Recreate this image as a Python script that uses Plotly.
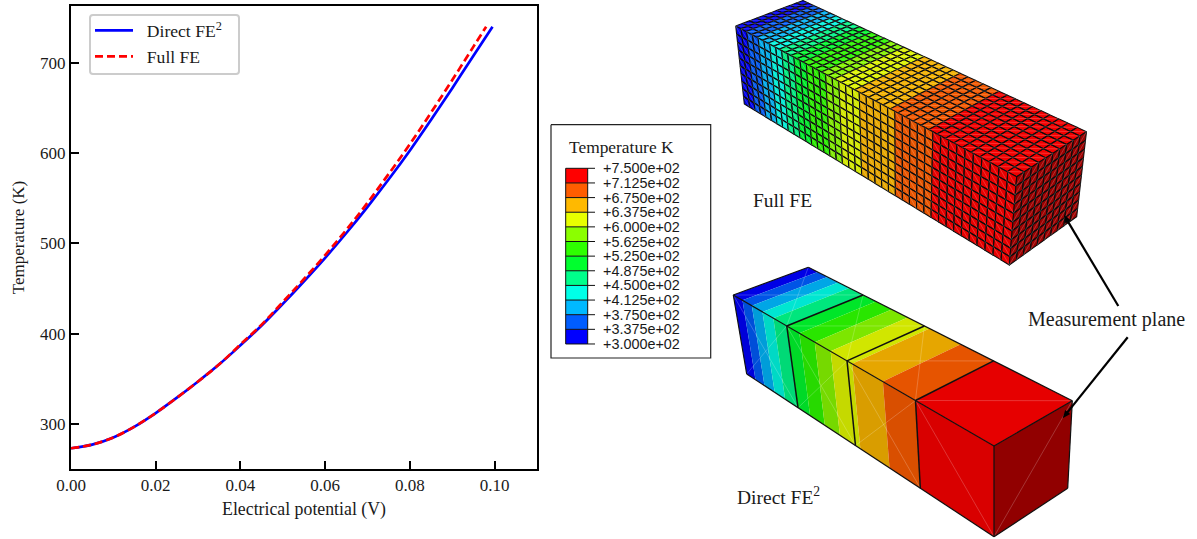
import numpy as np
import plotly.graph_objects as go

# ---------- chart data ----------
direct_v = [0, .005, .01, .015, .02, .025, .03, .035, .04, .045, .05, .055, .06, .065, .07, .075, .08, .085, .09, .095, .0995]
direct_t = [273, 277, 285, 297, 312, 329, 347, 366, 387, 409, 433, 458, 484, 511.5, 540.5, 571, 603, 637, 672, 708, 740]
full_v = [0, .005, .01, .015, .02, .025, .03, .035, .04, .045, .05, .055, .06, .065, .07, .075, .08, .085, .09, .095, .098]
full_t = [273, 277, 285, 297, 312, 329, 347, 366, 388, 410, 435, 460.5, 487, 515, 545, 577, 610, 645, 681, 718, 740]
x_ticks = [0, .02, .04, .06, .08, .10]
y_ticks = [300, 400, 500, 600, 700]

# ---------- contour scale ----------
levels = ["+7.500e+02", "+7.125e+02", "+6.750e+02", "+6.375e+02", "+6.000e+02", "+5.625e+02", "+5.250e+02",
          "+4.875e+02", "+4.500e+02", "+4.125e+02", "+3.750e+02", "+3.375e+02", "+3.000e+02"]
rgb = [(0, 0, 255), (0, 93, 255), (0, 185, 255), (0, 255, 232), (0, 255, 139), (0, 255, 46),
       (46, 255, 0), (139, 255, 0), (232, 255, 0), (255, 185, 0), (255, 93, 0), (255, 0, 0)]
# where along the bar (0 = cold end, 1 = hot end) each contour band stops
band_stop = [.045, .09, .14, .19, .25, .305, .37, .435, .5, .635, .75, 1.0]
band_colour_idx = [0, 1, 2, 3, 4, 5, 6, 7, 8, 9, 10, 11]
direct_stop = [.045, .09, .14, .19, .25, .305, .37, .435, .52, .635, .75, 1.0]
direct_idx = [0, 1, 2, 3, 4, 5, 6, 7, 8, 9, 10, 11]

# ---------- block outlines on the page (pixel frame of the illustration) ----------
full_box = dict(A=(735.7, 26), B=(803, 0.5), C=(1086.5, 131.7), D=(1016.7, 176.7), E=(1009.3, 265), F=(1076.7, 216.7), G=(744.3, 104))
fe2_box = dict(A=(733.3, 295), B=(808.3, 267.3), C=(1072.3, 400.7), D=(994, 446), E=(994, 536.7), F=(1067.7, 488.3), G=(746.7, 374))
N_LEN, N_CROSS = 40, 10
SERIF = "Liberation Serif"
SANS = "Liberation Sans"


def homography(q):
    (x0, y0), (x1, y1), (x2, y2), (x3, y3) = q
    dx1, dx2, sx = x1 - x2, x3 - x2, x0 - x1 + x2 - x3
    dy1, dy2, sy = y1 - y2, y3 - y2, y0 - y1 + y2 - y3
    den = dx1 * dy2 - dx2 * dy1
    g = (sx * dy2 - dx2 * sy) / den
    h = (dx1 * sy - sx * dy1) / den
    a, b, c = x1 - x0 + g * x1, x3 - x0 + h * x3, x0
    d, e, f = y1 - y0 + g * y1, y3 - y0 + h * y3, y0

    def m(u, v):
        w = g * u + h * v + 1
        return (a * u + b * v + c) / w, (d * u + e * v + f) / w
    return m


def shade(c, k):
    return "rgb(%d,%d,%d)" % tuple(round(v * k) for v in c)


fig = go.Figure()


def polys(items, colour, lw=0.0, lc="black"):
    xs, ys = [], []
    for p in items:
        xs += [q[0] for q in p] + [p[0][0], None]
        ys += [q[1] for q in p] + [p[0][1], None]
    fig.add_trace(go.Scatter(x=xs, y=ys, xaxis="x2", yaxis="y2", mode="lines", fill="toself", fillcolor=colour,
                             line=dict(color=lc, width=lw), hoverinfo="skip", showlegend=False))


def segs(items, colour, lw):
    xs, ys = [], []
    for a, b in items:
        xs += [a[0], b[0], None]
        ys += [a[1], b[1], None]
    fig.add_trace(go.Scatter(x=xs, y=ys, xaxis="x2", yaxis="y2", mode="lines", line=dict(color=colour, width=lw),
                             hoverinfo="skip", showlegend=False))


def band_of(u, stops):
    for i, s in enumerate(stops):
        if u <= s:
            return i
    return len(stops) - 1


# ---------- Full FE block ----------
def full_block(b):
    top = homography([b["A"], b["D"], b["C"], b["B"]])
    front = homography([b["A"], b["D"], b["E"], b["G"]])
    right = homography([b["D"], b["C"], b["F"], b["E"]])
    streak = []
    for face, k in ((top, .95), (front, .90)):
        groups = {}
        for i in range(N_LEN):
            u0, u1 = i / N_LEN, (i + 1) / N_LEN
            idx = band_colour_idx[band_of((u0 + u1) / 2, band_stop)]
            for j in range(N_CROSS):
                v0, v1 = j / N_CROSS, (j + 1) / N_CROSS
                groups.setdefault(idx, []).append([face(u0, v0), face(u1, v0), face(u1, v1), face(u0, v1)])
                streak.append((face(u0, v0), face(u1, v1)))
        for idx, cells in groups.items():
            polys(cells, shade(rgb[idx], k), 1.05, "#0c0c0c")
    cells = []
    for i in range(N_CROSS):
        for j in range(N_CROSS):
            u0, u1, v0, v1 = i / N_CROSS, (i + 1) / N_CROSS, j / N_CROSS, (j + 1) / N_CROSS
            cells.append([right(u0, v0), right(u1, v0), right(u1, v1), right(u0, v1)])
            streak.append((right(u1, v0), right(u0, v1)))
    polys(cells, "rgb(155,0,0)", 1.05, "#0c0c0c")
    segs(streak, "rgba(255,255,255,0.2)", 1)


# ---------- Direct FE2 block ----------
def fe2_block(b):
    top = homography([b["A"], b["D"], b["C"], b["B"]])
    front = homography([b["A"], b["D"], b["E"], b["G"]])
    right = homography([b["D"], b["C"], b["F"], b["E"]])
    streak = []
    for face, k in ((top, .90), (front, .85)):
        u0 = 0.0
        for stop, idx in zip(direct_stop, direct_idx):
            polys([[face(u0, 0), face(stop, 0), face(stop, 1), face(u0, 1)]], shade(rgb[idx], k))
            u0 = stop
        for e in range(4):
            a, c = e / 4, (e + 1) / 4
            streak.append((face(a, 0), face(c, 1)))
            if e < 3:
                streak.append((face(c, 0), face(a, 1)))
    polys([[right(0, 0), right(1, 0), right(1, 1), right(0, 1)]], "rgb(145,0,0)")
    streak.append((right(1, 0), right(0, 1)))
    segs(streak, "rgba(255,255,255,0.26)", 0.8)
    outline = [(b["A"], b["B"]), (b["B"], b["C"]), (b["C"], b["D"]), (b["D"], b["A"]), (b["A"], b["G"]), (b["G"], b["E"]),
               (b["E"], b["D"]), (b["E"], b["F"]), (b["F"], b["C"])]
    segs(outline, "#101010", 1.2)
    divisions = []
    for e in (.25, .5, .75):
        divisions.append((top(e, 1), top(e, 0)))
        divisions.append((front(e, 0), front(e, 1)))
    segs(divisions, "#101010", 1.5)


full_block(full_box)
fe2_block(fe2_box)

# ---------- temperature key ----------
KEY_X0, KEY_X1, KEY_TICK, KEY_Y0, KEY_STEP = 565.7, 587.7, 595.0, 168.3, 14.64
polys([[(551, 124.7), (710.7, 124.7), (710.7, 358), (551, 358)]], "white", 1.2, "#222222")
for i in range(12):
    ya, yb = KEY_Y0 + i * KEY_STEP, KEY_Y0 + (i + 1) * KEY_STEP
    polys([[(KEY_X0, ya), (KEY_X1, ya), (KEY_X1, yb), (KEY_X0, yb)]], shade(rgb[11 - i], 1))
segs([((KEY_X0, KEY_Y0 + i * KEY_STEP), (KEY_TICK, KEY_Y0 + i * KEY_STEP)) for i in range(13)], "#101010", 1)
segs([((KEY_X0, KEY_Y0), (KEY_X0, KEY_Y0 + 12 * KEY_STEP)), ((KEY_X1, KEY_Y0), (KEY_X1, KEY_Y0 + 12 * KEY_STEP))], "#101010", 1)

# ---------- measurement-plane pointers ----------
for tail, tip in (((1118.3, 306), (1064, 215)), ((1127.7, 337.3), (1062.7, 418.3))):
    d = np.subtract(tip, tail) / np.hypot(*np.subtract(tip, tail))
    n = np.array([-d[1], d[0]])
    segs([(tail, tuple(np.array(tip) - d * 4))], "black", 2.2)
    polys([[tip, tuple(np.array(tip) - d * 8 + n * 3.2), tuple(np.array(tip) - d * 8 - n * 3.2)]], "black")

# ---------- curves ----------
fig.add_trace(go.Scatter(x=direct_v, y=direct_t, name="\u00a0\u00a0Direct FE<sup>2</sup>", mode="lines",
                         line=dict(color="#0000ff", width=2.7, shape="spline")))
fig.add_trace(go.Scatter(x=full_v, y=full_t, name="\u00a0\u00a0Full FE", mode="lines",
                         line=dict(color="#ff0000", width=2.7, shape="spline", dash="8px,4px")))


def note(text, x, y, size, family=SERIF, anchor="left"):
    return dict(text=text, x=x, y=y, xref="x2", yref="y2", xanchor=anchor, yanchor="middle", showarrow=False,
                font=dict(family=family, size=size, color="#1a1a1a"))


annotations = [
    note("Full FE", 751, 200.5, 19.5),
    note("Direct FE<sup>2</sup>", 735, 496, 19.5),
    note("Measurement plane", 1026, 319.5, 20),
    note("Temperature K", 567, 146.5, 17.4),
]
for i, lab in enumerate(levels):
    annotations.append(note(lab, 601, KEY_Y0 + i * KEY_STEP, 14.4, SANS))

axis = dict(showgrid=False, zeroline=False, showline=True, mirror=True, linecolor="black", linewidth=2, automargin=False,
            ticks="inside", ticklen=8, tickwidth=1.5, tickcolor="black", tickfont=dict(family=SERIF, size=17, color="#1a1a1a"))
W, H = 1197, 539
LEGEND_FRAME = (90, 15, 239, 74, 3)
x0, y0, x1, y1, r = LEGEND_FRAME
frame = (f"M{x0 + r},{y0} L{x1 - r},{y0} Q{x1},{y0} {x1},{y0 + r} L{x1},{y1 - r} Q{x1},{y1} {x1 - r},{y1} "
         f"L{x0 + r},{y1} Q{x0},{y1} {x0},{y1 - r} L{x0},{y0 + r} Q{x0},{y0} {x0 + r},{y0} Z")
fig.update_layout(
    width=W, height=H, autosize=False, margin=dict(l=0, r=0, t=0, b=0), paper_bgcolor="white", plot_bgcolor="rgba(0,0,0,0)",
    xaxis=dict(axis, domain=[71 / W, 537 / W], range=[0, .11], tickvals=x_ticks, tickformat=".2f",
               title=dict(text="Electrical potential (V)", standoff=8, font=dict(family=SERIF, size=17.8, color="#1a1a1a"))),
    yaxis=dict(axis, domain=[1 - 469 / H, 1 - 6 / H], range=[250, 763], tickvals=y_ticks,
               title=dict(text="Temperature (K)", standoff=11, font=dict(family=SERIF, size=17, color="#1a1a1a"))),
    xaxis2=dict(domain=[0, 1], range=[0, W], visible=False, fixedrange=True, anchor="y2"),
    yaxis2=dict(domain=[0, 1], range=[H, 0], visible=False, fixedrange=True, anchor="x2"),
    legend=dict(x=90 / W, xanchor="left", y=1 - 12.5 / H, yanchor="top", bgcolor="rgba(0,0,0,0)", borderwidth=0,
                itemwidth=38, font=dict(family=SERIF, size=17.6, color="#1a1a1a")),
    shapes=[dict(type="path", path=frame, xref="x2", yref="y2", line=dict(color="#cccccc", width=2), fillcolor="rgba(0,0,0,0)")],
    annotations=annotations,
)
fig.write_html("out.html", config={"displayModeBar": False},
               post_script="document.body.style.margin='0';document.body.style.overflow='hidden';")
